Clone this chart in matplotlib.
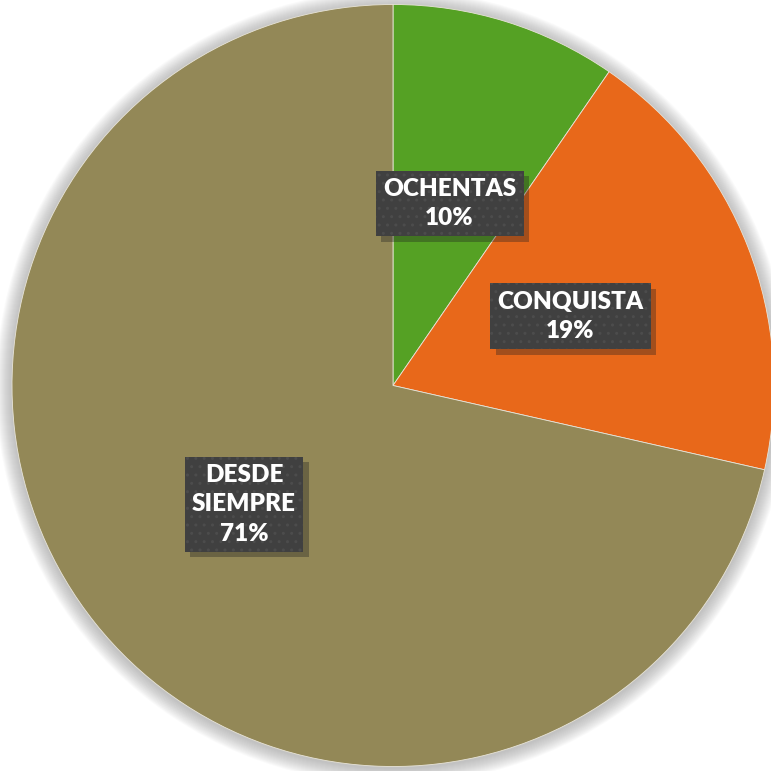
import numpy as np
import matplotlib.pyplot as plt
from matplotlib.patches import Circle
import matplotlib.patheffects as pe

'''Data'''
categories = ['OCHENTAS', 'CONQUISTA', 'DESDE\nSIEMPRE']
shares = [9.6, 18.95, 71.45]                 # slice sizes
pct_labels = ['10%', '19%', '71%']           # printed percentages
colors = ['#55A124', '#E8681A', '#938857']

'''Figure'''
fig = plt.figure(figsize=(7.71, 7.71), dpi=100)
ax = fig.add_axes([0, 0, 1, 1])
ax.set_aspect('equal')
ax.axis('off')

'''Soft glow behind the pie'''
for i in range(16):
    ax.add_patch(Circle((0, -0.004), 1 + (i + 1) / 381, color='#808080',
                        alpha=0.035, lw=0, zorder=0))

labels = [c + '\n' + p for c, p in zip(categories, pct_labels)]
wedges, texts = ax.pie(shares, labels=labels, colors=colors, startangle=90,
                       counterclock=False, radius=1, labeldistance=0.5,
                       wedgeprops=dict(edgecolor='#e8e4d8', linewidth=0.6),
                       textprops=dict(color='white', fontsize=17.5,
                                      fontweight='heavy', family='Lato',
                                      ha='center', va='center', linespacing=1.4))
for w in wedges:
    w.set_zorder(1)
ax.set_xlim(-393 / 381, 378 / 381)
ax.set_ylim(-385.5 / 381, 385.5 / 381)

plt.rcParams['hatch.linewidth'] = 1.0
for t in texts:
    t.set_zorder(5)
    t.set_bbox(dict(boxstyle='square,pad=0.3', facecolor='#404040',
                    edgecolor='#4c4c4c', linewidth=0, hatch='..'))
    t.get_bbox_patch().set_path_effects([
        pe.PathPatchEffect(offset=(4, -4), facecolor='#202020', edgecolor='none',
                           alpha=0.35),
        pe.Normal()])

plt.savefig('out.png', dpi=100)
